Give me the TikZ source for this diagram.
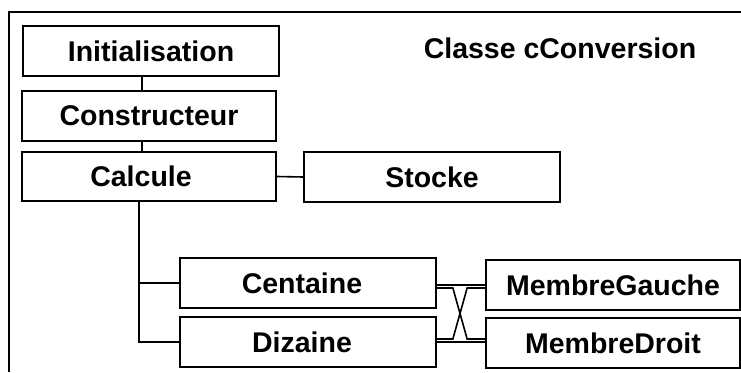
\documentclass[tikz,border=0pt]{standalone}
\usepackage{fontspec}
\setmainfont{Liberation Sans}
\usetikzlibrary{calc}
\begin{document}
\begin{tikzpicture}[x=1pt,y=-1pt,
  box/.style={draw, line width=1.7pt, rectangle, inner sep=0pt,
    minimum width=#1, minimum height=50pt,
    font=\fontsize{28.5}{32}\selectfont\bfseries},
  box/.default=256pt,
  link/.style={line width=1.6pt}]
\useasboundingbox (0,0) rectangle (741,372);
% frame: top and left edges only
\draw[line width=1.7pt] (9,372) -- (9,12) -- (741,12);
\node[font=\fontsize{28.5}{32}\selectfont\bfseries] (title) at (560,48) {Classe cConversion};
% method boxes
\node[box] (init) at (151,51) {Initialisation};
\node[box=254pt] (constr) at (149,116) {Constructeur};
\node[box=254pt, minimum height=49pt] (calc) at (149,176.5) {\hspace*{-16pt}Calcule};
\node[box] (stocke) at (432,177) {Stocke};
\node[box] (cent) at (308,283) {\hspace*{-12pt}Centaine};
\node[box] (diz) at (308,342) {\hspace*{-12pt}Dizaine};
\node[box=254pt] (mg) at (613,285) {MembreGauche};
\node[box=254pt] (md) at (613,343) {MembreDroit};
% connectors
\draw[link] (init.south -| 142,0) -- (constr.north -| 142,0);
\draw[link] (constr.south -| 142,0) -- (calc.north -| 142,0);
\draw[link] (calc.east) -- (stocke.west);
\draw[link] ($(calc.south)+(-10,0)$) |- (cent.west);
\draw[link] ($(calc.south)+(-10,0)$) |- (diz.west);
% straight links
\draw[link] (cent.east |- mg.west) -- (mg.west);
\draw[link] (diz.east) -- (diz.east -| md.west);
% crossed links
\draw[link] ($(cent.east)+(0,5)$) -- ++(16,0) -- ($(md.west)+(-18,-4)$) -- ($(md.west)+(0,-4)$);
\draw[link] ($(mg.west)+(0,3)$) -- ++(-18,0) -- ($(diz.east)+(16,-3)$) -- ($(diz.east)+(0,-3)$);
\end{tikzpicture}
\end{document}
